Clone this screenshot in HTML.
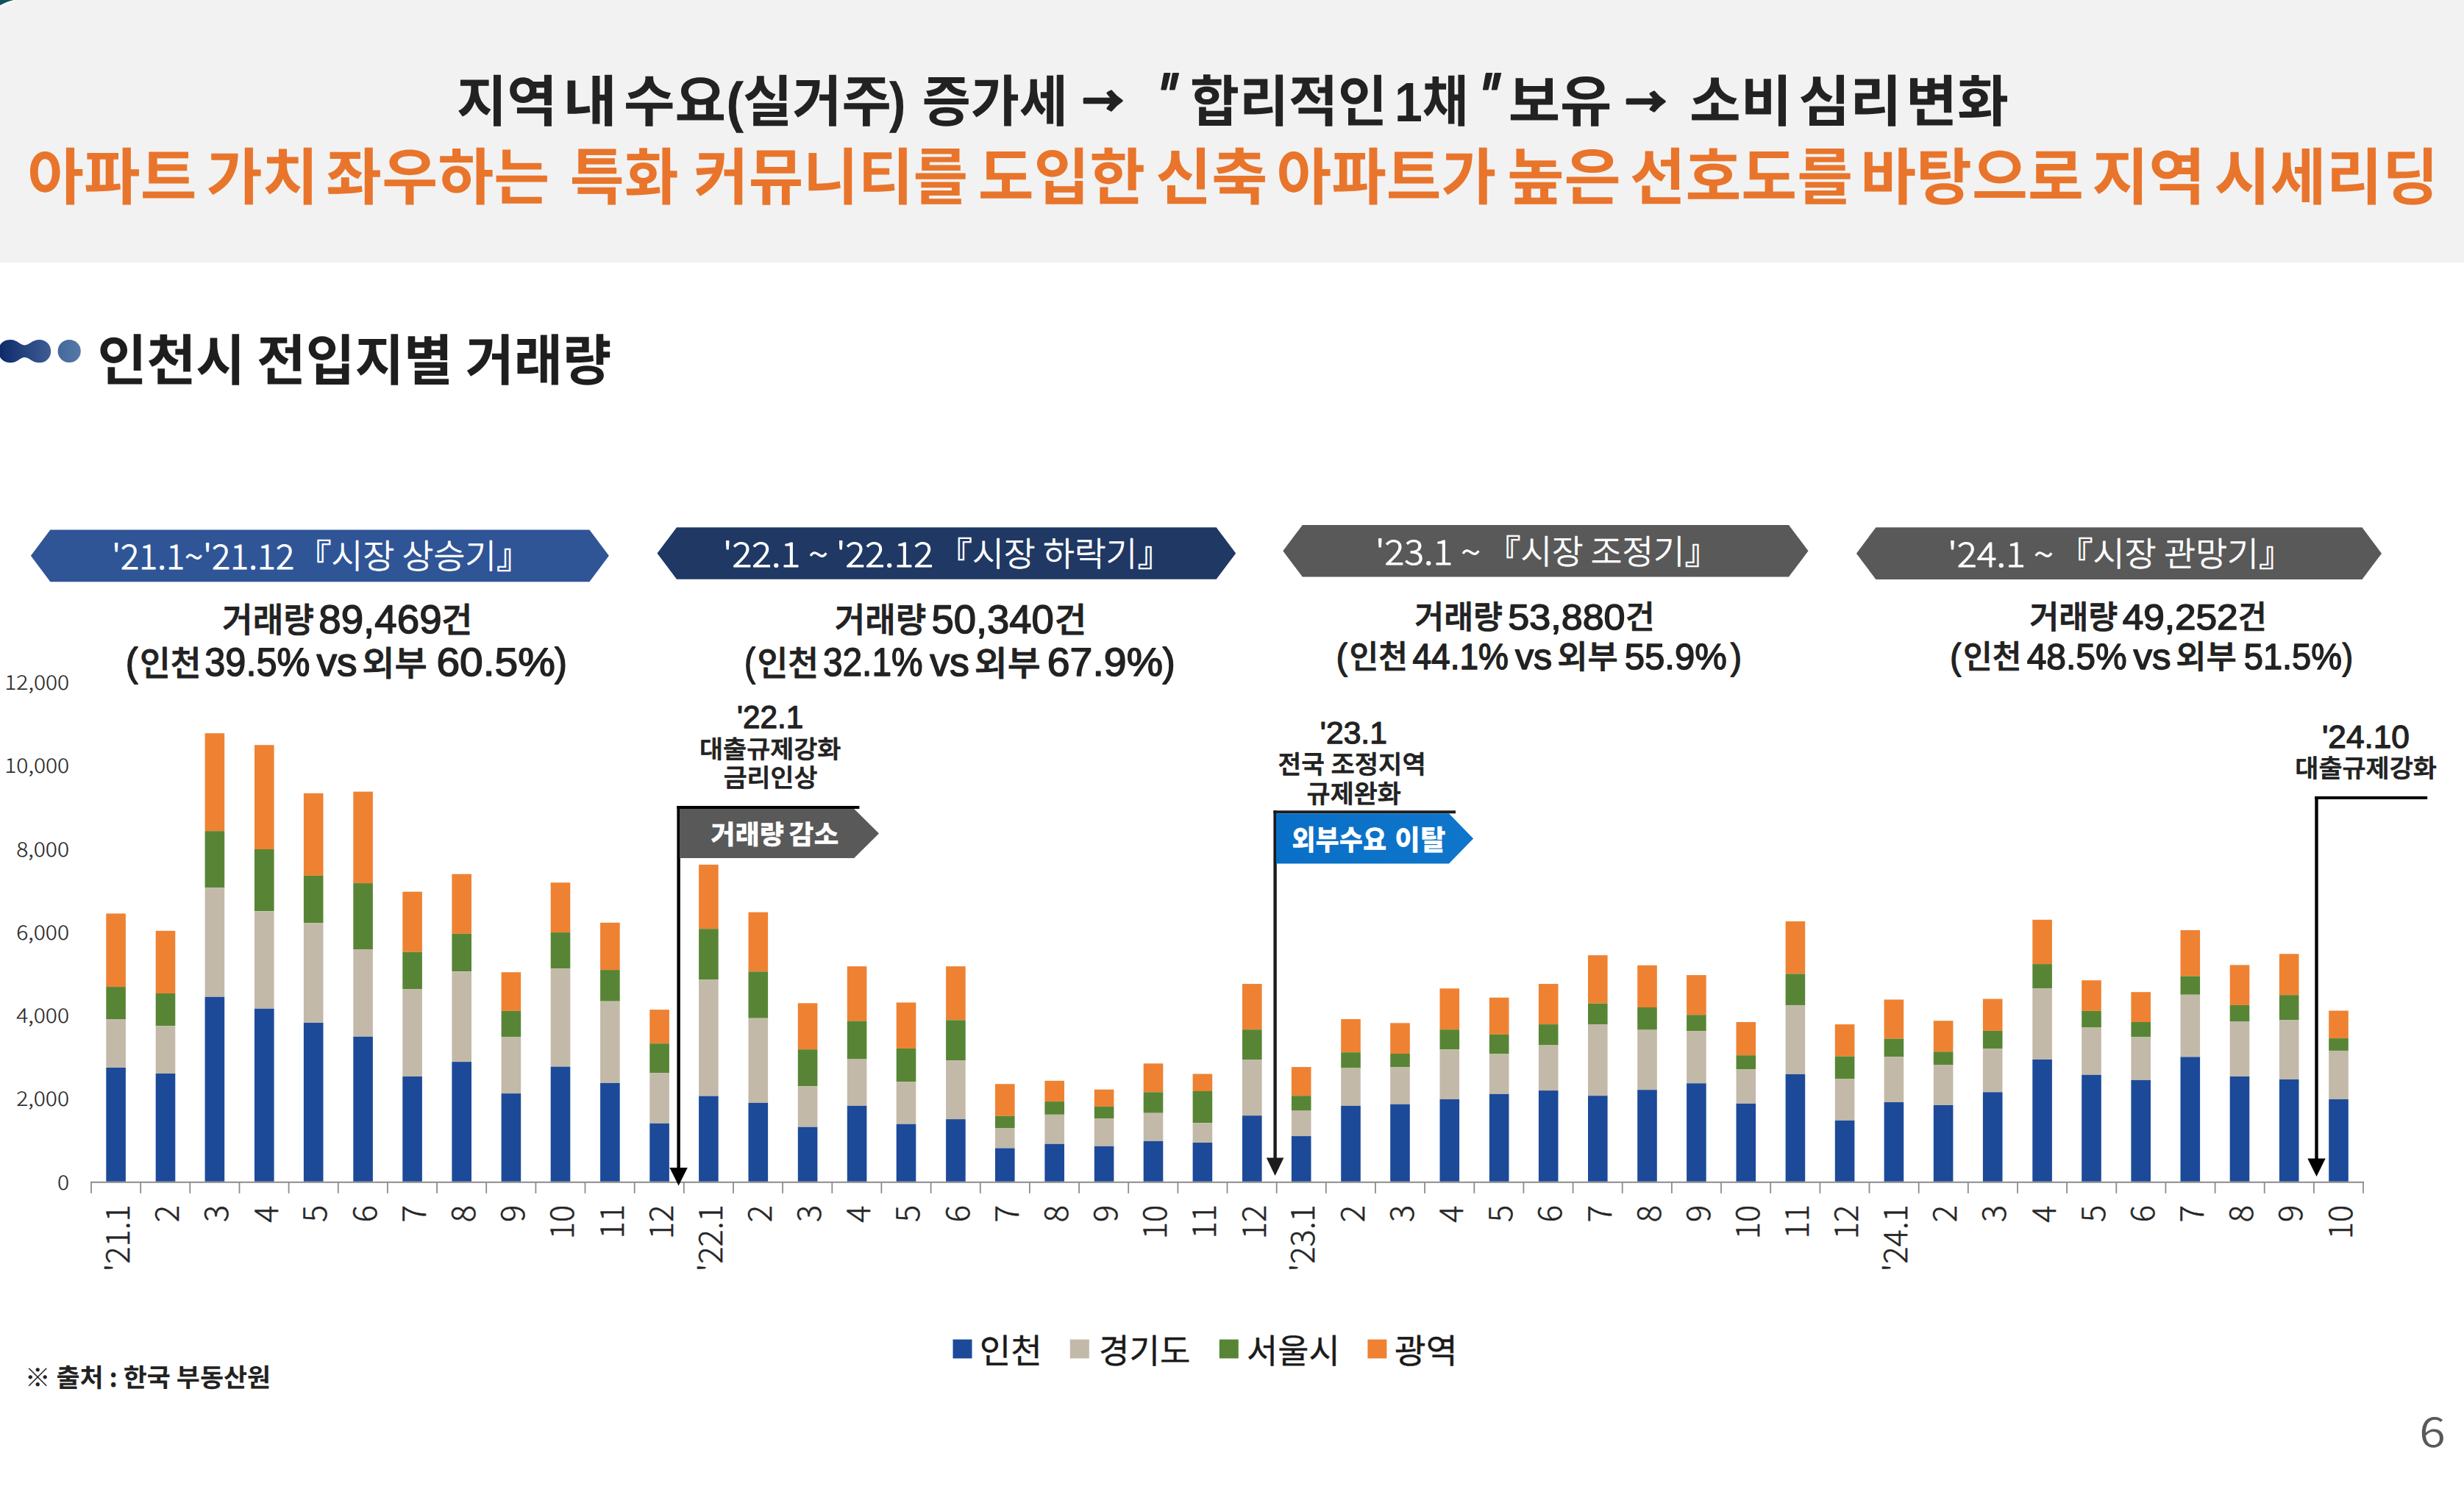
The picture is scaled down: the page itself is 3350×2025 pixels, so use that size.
<!DOCTYPE html>
<html><head><meta charset="utf-8"><title>인천시 전입지별 거래량</title>
<style>html,body{margin:0;padding:0;background:#fff;}body{width:3350px;height:2025px;overflow:hidden}text{white-space:pre;text-rendering:geometricPrecision}</style></head>
<body><svg width="3350" height="2025" viewBox="0 0 3350 2025" style="display:block"><rect x="0" y="0" width="3350" height="357" fill="#f2f2f2"/>
<filter id="bl" x="-50%" y="-50%" width="200%" height="200%"><feGaussianBlur stdDeviation="1.6"/></filter>
<path d="M0,0 H25 Q9,5 0,11 Z" fill="#f9ffff" opacity="0.95" filter="url(#bl)"/>
<path d="M0,0 H18.5 Q7,3 0,7.2 Z" fill="#13515e"/>
<defs>
<linearGradient id="gb" x1="0" x2="1" y1="0" y2="0"><stop offset="0" stop-color="#0b2a69"/><stop offset="1" stop-color="#3f5d95"/></linearGradient>
<linearGradient id="gc" x1="0" x2="1" y1="0" y2="0"><stop offset="0" stop-color="#44689b"/><stop offset="1" stop-color="#5579a7"/></linearGradient>
<linearGradient id="gt" x1="0" x2="1" y1="0" y2="0"><stop offset="0" stop-color="#0a6fc6"/><stop offset="1" stop-color="#0f76cb"/></linearGradient>
</defs>
<path d="M-2,477.7 C-2,468 5,462.1 14,462.1 C24,462.1 27,469.5 33.5,469.5 C40,469.5 43.5,462.1 53.6,462.1 C62.5,462.1 69.2,469 69.2,477.7 C69.2,486.5 62.5,493.3 53.6,493.3 C43.5,493.3 40,486 33.5,486 C27,486 24,493.3 14,493.3 C5,493.3 -2,487 -2,477.7 Z" fill="url(#gb)"/>
<circle cx="94.2" cy="477.5" r="15.6" fill="url(#gc)"/>
<polygon points="41.9,755.8 68.4,720.4 801.4,720.4 827.9,755.8 801.4,791.2 68.4,791.2" fill="#2f5597"/>
<polygon points="893.5,752.45 920.0,717.2 1653.7,717.2 1680.2,752.45 1653.7,787.7 920.0,787.7" fill="#203864"/>
<polygon points="1744.3,749.35 1770.8,714.1 2432.0,714.1 2458.5,749.35 2432.0,784.6 1770.8,784.6" fill="#595959"/>
<polygon points="2523.9,752.6500000000001 2550.4,717.2 3211.5,717.2 3238,752.6500000000001 3211.5,788.1 2550.4,788.1" fill="#595959"/>
<rect x="144.3" y="1242.4" width="26.6" height="99.7" fill="#ee8232"/>
<rect x="144.3" y="1342.1" width="26.6" height="44.3" fill="#588535"/>
<rect x="144.3" y="1386.4" width="26.6" height="65.6" fill="#c3b9a9"/>
<rect x="144.3" y="1452.0" width="26.6" height="154.8" fill="#1c4a99"/>
<rect x="211.7" y="1265.9" width="26.6" height="85.1" fill="#ee8232"/>
<rect x="211.7" y="1351.0" width="26.6" height="44.3" fill="#588535"/>
<rect x="211.7" y="1395.3" width="26.6" height="64.7" fill="#c3b9a9"/>
<rect x="211.7" y="1460.0" width="26.6" height="146.8" fill="#1c4a99"/>
<rect x="278.6" y="997.2" width="26.6" height="133.0" fill="#ee8232"/>
<rect x="278.6" y="1130.2" width="26.6" height="77.1" fill="#588535"/>
<rect x="278.6" y="1207.3" width="26.6" height="148.5" fill="#c3b9a9"/>
<rect x="278.6" y="1355.8" width="26.6" height="251.0" fill="#1c4a99"/>
<rect x="346.0" y="1013.2" width="26.6" height="141.8" fill="#ee8232"/>
<rect x="346.0" y="1155.0" width="26.6" height="84.2" fill="#588535"/>
<rect x="346.0" y="1239.3" width="26.6" height="132.5" fill="#c3b9a9"/>
<rect x="346.0" y="1371.8" width="26.6" height="235.0" fill="#1c4a99"/>
<rect x="412.9" y="1078.8" width="26.6" height="112.1" fill="#ee8232"/>
<rect x="412.9" y="1190.9" width="26.6" height="64.3" fill="#588535"/>
<rect x="412.9" y="1255.2" width="26.6" height="135.6" fill="#c3b9a9"/>
<rect x="412.9" y="1390.9" width="26.6" height="215.9" fill="#1c4a99"/>
<rect x="480.3" y="1076.6" width="26.6" height="124.6" fill="#ee8232"/>
<rect x="480.3" y="1201.1" width="26.6" height="90.0" fill="#588535"/>
<rect x="480.3" y="1291.1" width="26.6" height="118.8" fill="#c3b9a9"/>
<rect x="480.3" y="1409.9" width="26.6" height="196.9" fill="#1c4a99"/>
<rect x="547.3" y="1212.7" width="26.6" height="82.0" fill="#ee8232"/>
<rect x="547.3" y="1294.7" width="26.6" height="50.5" fill="#588535"/>
<rect x="547.3" y="1345.2" width="26.6" height="118.8" fill="#c3b9a9"/>
<rect x="547.3" y="1464.0" width="26.6" height="142.8" fill="#1c4a99"/>
<rect x="614.4" y="1188.7" width="26.6" height="81.1" fill="#ee8232"/>
<rect x="614.4" y="1269.8" width="26.6" height="51.4" fill="#588535"/>
<rect x="614.4" y="1321.3" width="26.6" height="122.8" fill="#c3b9a9"/>
<rect x="614.4" y="1444.1" width="26.6" height="162.7" fill="#1c4a99"/>
<rect x="681.6" y="1322.2" width="26.6" height="52.7" fill="#ee8232"/>
<rect x="681.6" y="1374.9" width="26.6" height="35.5" fill="#588535"/>
<rect x="681.6" y="1410.4" width="26.6" height="76.7" fill="#c3b9a9"/>
<rect x="681.6" y="1487.1" width="26.6" height="119.7" fill="#1c4a99"/>
<rect x="748.7" y="1200.3" width="26.6" height="67.8" fill="#ee8232"/>
<rect x="748.7" y="1268.1" width="26.6" height="49.2" fill="#588535"/>
<rect x="748.7" y="1317.3" width="26.6" height="133.4" fill="#c3b9a9"/>
<rect x="748.7" y="1450.7" width="26.6" height="156.1" fill="#1c4a99"/>
<rect x="816.1" y="1254.8" width="26.6" height="64.3" fill="#ee8232"/>
<rect x="816.1" y="1319.1" width="26.6" height="42.6" fill="#588535"/>
<rect x="816.1" y="1361.6" width="26.6" height="111.3" fill="#c3b9a9"/>
<rect x="816.1" y="1472.9" width="26.6" height="133.9" fill="#1c4a99"/>
<rect x="883.3" y="1373.1" width="26.6" height="46.1" fill="#ee8232"/>
<rect x="883.3" y="1419.2" width="26.6" height="39.9" fill="#588535"/>
<rect x="883.3" y="1459.1" width="26.6" height="68.7" fill="#c3b9a9"/>
<rect x="883.3" y="1527.8" width="26.6" height="79.0" fill="#1c4a99"/>
<rect x="950.1" y="1175.9" width="26.6" height="87.3" fill="#ee8232"/>
<rect x="950.1" y="1263.2" width="26.6" height="69.2" fill="#588535"/>
<rect x="950.1" y="1332.3" width="26.6" height="158.2" fill="#c3b9a9"/>
<rect x="950.1" y="1490.6" width="26.6" height="116.2" fill="#1c4a99"/>
<rect x="1017.5" y="1240.6" width="26.6" height="80.7" fill="#ee8232"/>
<rect x="1017.5" y="1321.3" width="26.6" height="63.4" fill="#588535"/>
<rect x="1017.5" y="1384.7" width="26.6" height="115.3" fill="#c3b9a9"/>
<rect x="1017.5" y="1499.9" width="26.6" height="106.9" fill="#1c4a99"/>
<rect x="1084.8" y="1364.3" width="26.6" height="62.9" fill="#ee8232"/>
<rect x="1084.8" y="1427.2" width="26.6" height="50.1" fill="#588535"/>
<rect x="1084.8" y="1477.3" width="26.6" height="55.4" fill="#c3b9a9"/>
<rect x="1084.8" y="1532.7" width="26.6" height="74.1" fill="#1c4a99"/>
<rect x="1151.8" y="1314.2" width="26.6" height="74.5" fill="#ee8232"/>
<rect x="1151.8" y="1388.6" width="26.6" height="51.9" fill="#588535"/>
<rect x="1151.8" y="1440.5" width="26.6" height="63.4" fill="#c3b9a9"/>
<rect x="1151.8" y="1503.9" width="26.6" height="102.9" fill="#1c4a99"/>
<rect x="1218.7" y="1363.4" width="26.6" height="62.5" fill="#ee8232"/>
<rect x="1218.7" y="1425.9" width="26.6" height="45.2" fill="#588535"/>
<rect x="1218.7" y="1471.1" width="26.6" height="57.6" fill="#c3b9a9"/>
<rect x="1218.7" y="1528.7" width="26.6" height="78.1" fill="#1c4a99"/>
<rect x="1286.1" y="1314.2" width="26.6" height="73.1" fill="#ee8232"/>
<rect x="1286.1" y="1387.3" width="26.6" height="55.0" fill="#588535"/>
<rect x="1286.1" y="1442.3" width="26.6" height="79.8" fill="#c3b9a9"/>
<rect x="1286.1" y="1522.1" width="26.6" height="84.7" fill="#1c4a99"/>
<rect x="1353.0" y="1474.2" width="26.6" height="43.4" fill="#ee8232"/>
<rect x="1353.0" y="1517.6" width="26.6" height="16.4" fill="#588535"/>
<rect x="1353.0" y="1534.0" width="26.6" height="27.5" fill="#c3b9a9"/>
<rect x="1353.0" y="1561.5" width="26.6" height="45.3" fill="#1c4a99"/>
<rect x="1420.4" y="1469.8" width="26.6" height="28.4" fill="#ee8232"/>
<rect x="1420.4" y="1498.1" width="26.6" height="17.7" fill="#588535"/>
<rect x="1420.4" y="1515.9" width="26.6" height="39.9" fill="#c3b9a9"/>
<rect x="1420.4" y="1555.8" width="26.6" height="51.0" fill="#1c4a99"/>
<rect x="1487.8" y="1481.7" width="26.6" height="23.1" fill="#ee8232"/>
<rect x="1487.8" y="1504.8" width="26.6" height="16.4" fill="#588535"/>
<rect x="1487.8" y="1521.2" width="26.6" height="37.7" fill="#c3b9a9"/>
<rect x="1487.8" y="1558.9" width="26.6" height="47.9" fill="#1c4a99"/>
<rect x="1554.7" y="1446.3" width="26.6" height="39.0" fill="#ee8232"/>
<rect x="1554.7" y="1485.3" width="26.6" height="28.4" fill="#588535"/>
<rect x="1554.7" y="1513.6" width="26.6" height="38.1" fill="#c3b9a9"/>
<rect x="1554.7" y="1551.8" width="26.6" height="55.0" fill="#1c4a99"/>
<rect x="1621.6" y="1460.5" width="26.6" height="23.5" fill="#ee8232"/>
<rect x="1621.6" y="1483.9" width="26.6" height="43.4" fill="#588535"/>
<rect x="1621.6" y="1527.4" width="26.6" height="26.6" fill="#c3b9a9"/>
<rect x="1621.6" y="1554.0" width="26.6" height="52.8" fill="#1c4a99"/>
<rect x="1689.0" y="1338.1" width="26.6" height="62.1" fill="#ee8232"/>
<rect x="1689.0" y="1400.2" width="26.6" height="41.2" fill="#588535"/>
<rect x="1689.0" y="1441.4" width="26.6" height="75.8" fill="#c3b9a9"/>
<rect x="1689.0" y="1517.2" width="26.6" height="89.6" fill="#1c4a99"/>
<rect x="1755.9" y="1451.1" width="26.6" height="39.0" fill="#ee8232"/>
<rect x="1755.9" y="1490.2" width="26.6" height="20.4" fill="#588535"/>
<rect x="1755.9" y="1510.5" width="26.6" height="34.6" fill="#c3b9a9"/>
<rect x="1755.9" y="1545.1" width="26.6" height="61.7" fill="#1c4a99"/>
<rect x="1823.2" y="1386.0" width="26.6" height="45.2" fill="#ee8232"/>
<rect x="1823.2" y="1431.2" width="26.6" height="21.3" fill="#588535"/>
<rect x="1823.2" y="1452.5" width="26.6" height="51.4" fill="#c3b9a9"/>
<rect x="1823.2" y="1503.9" width="26.6" height="102.9" fill="#1c4a99"/>
<rect x="1890.2" y="1391.3" width="26.6" height="41.7" fill="#ee8232"/>
<rect x="1890.2" y="1433.0" width="26.6" height="18.2" fill="#588535"/>
<rect x="1890.2" y="1451.1" width="26.6" height="50.5" fill="#c3b9a9"/>
<rect x="1890.2" y="1501.7" width="26.6" height="105.1" fill="#1c4a99"/>
<rect x="1957.5" y="1344.3" width="26.6" height="55.9" fill="#ee8232"/>
<rect x="1957.5" y="1400.2" width="26.6" height="27.0" fill="#588535"/>
<rect x="1957.5" y="1427.2" width="26.6" height="67.8" fill="#c3b9a9"/>
<rect x="1957.5" y="1495.0" width="26.6" height="111.8" fill="#1c4a99"/>
<rect x="2024.9" y="1356.7" width="26.6" height="50.1" fill="#ee8232"/>
<rect x="2024.9" y="1406.8" width="26.6" height="26.6" fill="#588535"/>
<rect x="2024.9" y="1433.4" width="26.6" height="54.5" fill="#c3b9a9"/>
<rect x="2024.9" y="1487.9" width="26.6" height="118.9" fill="#1c4a99"/>
<rect x="2091.9" y="1338.1" width="26.6" height="55.0" fill="#ee8232"/>
<rect x="2091.9" y="1393.1" width="26.6" height="28.4" fill="#588535"/>
<rect x="2091.9" y="1421.4" width="26.6" height="61.6" fill="#c3b9a9"/>
<rect x="2091.9" y="1483.1" width="26.6" height="123.7" fill="#1c4a99"/>
<rect x="2159.0" y="1299.1" width="26.6" height="65.6" fill="#ee8232"/>
<rect x="2159.0" y="1364.7" width="26.6" height="28.4" fill="#588535"/>
<rect x="2159.0" y="1393.1" width="26.6" height="97.1" fill="#c3b9a9"/>
<rect x="2159.0" y="1490.2" width="26.6" height="116.6" fill="#1c4a99"/>
<rect x="2226.2" y="1312.8" width="26.6" height="57.2" fill="#ee8232"/>
<rect x="2226.2" y="1370.0" width="26.6" height="30.6" fill="#588535"/>
<rect x="2226.2" y="1400.6" width="26.6" height="81.6" fill="#c3b9a9"/>
<rect x="2226.2" y="1482.2" width="26.6" height="124.6" fill="#1c4a99"/>
<rect x="2293.1" y="1326.1" width="26.6" height="54.1" fill="#ee8232"/>
<rect x="2293.1" y="1380.2" width="26.6" height="22.2" fill="#588535"/>
<rect x="2293.1" y="1402.4" width="26.6" height="70.9" fill="#c3b9a9"/>
<rect x="2293.1" y="1473.3" width="26.6" height="133.5" fill="#1c4a99"/>
<rect x="2360.5" y="1390.0" width="26.6" height="45.2" fill="#ee8232"/>
<rect x="2360.5" y="1435.2" width="26.6" height="19.1" fill="#588535"/>
<rect x="2360.5" y="1454.2" width="26.6" height="46.5" fill="#c3b9a9"/>
<rect x="2360.5" y="1500.8" width="26.6" height="106.0" fill="#1c4a99"/>
<rect x="2427.6" y="1253.0" width="26.6" height="71.4" fill="#ee8232"/>
<rect x="2427.6" y="1324.4" width="26.6" height="42.6" fill="#588535"/>
<rect x="2427.6" y="1366.9" width="26.6" height="94.0" fill="#c3b9a9"/>
<rect x="2427.6" y="1460.9" width="26.6" height="145.9" fill="#1c4a99"/>
<rect x="2494.8" y="1393.1" width="26.6" height="43.4" fill="#ee8232"/>
<rect x="2494.8" y="1436.5" width="26.6" height="30.6" fill="#588535"/>
<rect x="2494.8" y="1467.1" width="26.6" height="56.7" fill="#c3b9a9"/>
<rect x="2494.8" y="1523.8" width="26.6" height="83.0" fill="#1c4a99"/>
<rect x="2561.6" y="1359.4" width="26.6" height="53.2" fill="#ee8232"/>
<rect x="2561.6" y="1412.6" width="26.6" height="24.8" fill="#588535"/>
<rect x="2561.6" y="1437.4" width="26.6" height="61.6" fill="#c3b9a9"/>
<rect x="2561.6" y="1499.0" width="26.6" height="107.8" fill="#1c4a99"/>
<rect x="2628.8" y="1388.2" width="26.6" height="42.1" fill="#ee8232"/>
<rect x="2628.8" y="1430.3" width="26.6" height="18.2" fill="#588535"/>
<rect x="2628.8" y="1448.5" width="26.6" height="54.5" fill="#c3b9a9"/>
<rect x="2628.8" y="1503.0" width="26.6" height="103.8" fill="#1c4a99"/>
<rect x="2695.9" y="1358.5" width="26.6" height="43.4" fill="#ee8232"/>
<rect x="2695.9" y="1401.9" width="26.6" height="24.4" fill="#588535"/>
<rect x="2695.9" y="1426.3" width="26.6" height="59.0" fill="#c3b9a9"/>
<rect x="2695.9" y="1485.3" width="26.6" height="121.5" fill="#1c4a99"/>
<rect x="2763.3" y="1250.8" width="26.6" height="60.3" fill="#ee8232"/>
<rect x="2763.3" y="1311.1" width="26.6" height="33.2" fill="#588535"/>
<rect x="2763.3" y="1344.3" width="26.6" height="96.6" fill="#c3b9a9"/>
<rect x="2763.3" y="1440.9" width="26.6" height="165.9" fill="#1c4a99"/>
<rect x="2830.2" y="1333.2" width="26.6" height="41.7" fill="#ee8232"/>
<rect x="2830.2" y="1374.9" width="26.6" height="22.6" fill="#588535"/>
<rect x="2830.2" y="1397.5" width="26.6" height="64.3" fill="#c3b9a9"/>
<rect x="2830.2" y="1461.8" width="26.6" height="145.0" fill="#1c4a99"/>
<rect x="2897.4" y="1349.2" width="26.6" height="40.8" fill="#ee8232"/>
<rect x="2897.4" y="1390.0" width="26.6" height="20.4" fill="#588535"/>
<rect x="2897.4" y="1410.4" width="26.6" height="58.5" fill="#c3b9a9"/>
<rect x="2897.4" y="1468.9" width="26.6" height="137.9" fill="#1c4a99"/>
<rect x="2964.5" y="1265.0" width="26.6" height="62.5" fill="#ee8232"/>
<rect x="2964.5" y="1327.5" width="26.6" height="25.3" fill="#588535"/>
<rect x="2964.5" y="1352.7" width="26.6" height="84.7" fill="#c3b9a9"/>
<rect x="2964.5" y="1437.4" width="26.6" height="169.4" fill="#1c4a99"/>
<rect x="3031.7" y="1312.4" width="26.6" height="54.5" fill="#ee8232"/>
<rect x="3031.7" y="1366.9" width="26.6" height="22.6" fill="#588535"/>
<rect x="3031.7" y="1389.5" width="26.6" height="74.5" fill="#c3b9a9"/>
<rect x="3031.7" y="1464.0" width="26.6" height="142.8" fill="#1c4a99"/>
<rect x="3098.9" y="1297.3" width="26.6" height="55.9" fill="#ee8232"/>
<rect x="3098.9" y="1353.2" width="26.6" height="34.1" fill="#588535"/>
<rect x="3098.9" y="1387.3" width="26.6" height="80.7" fill="#c3b9a9"/>
<rect x="3098.9" y="1468.0" width="26.6" height="138.8" fill="#1c4a99"/>
<rect x="3166.2" y="1374.5" width="26.6" height="37.7" fill="#ee8232"/>
<rect x="3166.2" y="1412.1" width="26.6" height="16.8" fill="#588535"/>
<rect x="3166.2" y="1429.0" width="26.6" height="66.0" fill="#c3b9a9"/>
<rect x="3166.2" y="1495.0" width="26.6" height="111.8" fill="#1c4a99"/>
<rect x="123.0" y="1606.8" width="3091.0" height="2" fill="#8c8c8c"/>
<rect x="123.1" y="1607.5" width="1.8" height="15.4" fill="#8c8c8c"/>
<rect x="190.3" y="1607.5" width="1.8" height="15.4" fill="#8c8c8c"/>
<rect x="257.4" y="1607.5" width="1.8" height="15.4" fill="#8c8c8c"/>
<rect x="324.6" y="1607.5" width="1.8" height="15.4" fill="#8c8c8c"/>
<rect x="391.7" y="1607.5" width="1.8" height="15.4" fill="#8c8c8c"/>
<rect x="458.9" y="1607.5" width="1.8" height="15.4" fill="#8c8c8c"/>
<rect x="526.0" y="1607.5" width="1.8" height="15.4" fill="#8c8c8c"/>
<rect x="593.2" y="1607.5" width="1.8" height="15.4" fill="#8c8c8c"/>
<rect x="660.3" y="1607.5" width="1.8" height="15.4" fill="#8c8c8c"/>
<rect x="727.5" y="1607.5" width="1.8" height="15.4" fill="#8c8c8c"/>
<rect x="794.6" y="1607.5" width="1.8" height="15.4" fill="#8c8c8c"/>
<rect x="861.8" y="1607.5" width="1.8" height="15.4" fill="#8c8c8c"/>
<rect x="928.9" y="1607.5" width="1.8" height="15.4" fill="#8c8c8c"/>
<rect x="996.1" y="1607.5" width="1.8" height="15.4" fill="#8c8c8c"/>
<rect x="1063.2" y="1607.5" width="1.8" height="15.4" fill="#8c8c8c"/>
<rect x="1130.4" y="1607.5" width="1.8" height="15.4" fill="#8c8c8c"/>
<rect x="1197.5" y="1607.5" width="1.8" height="15.4" fill="#8c8c8c"/>
<rect x="1264.7" y="1607.5" width="1.8" height="15.4" fill="#8c8c8c"/>
<rect x="1331.9" y="1607.5" width="1.8" height="15.4" fill="#8c8c8c"/>
<rect x="1399.0" y="1607.5" width="1.8" height="15.4" fill="#8c8c8c"/>
<rect x="1466.2" y="1607.5" width="1.8" height="15.4" fill="#8c8c8c"/>
<rect x="1533.3" y="1607.5" width="1.8" height="15.4" fill="#8c8c8c"/>
<rect x="1600.5" y="1607.5" width="1.8" height="15.4" fill="#8c8c8c"/>
<rect x="1667.6" y="1607.5" width="1.8" height="15.4" fill="#8c8c8c"/>
<rect x="1734.8" y="1607.5" width="1.8" height="15.4" fill="#8c8c8c"/>
<rect x="1801.9" y="1607.5" width="1.8" height="15.4" fill="#8c8c8c"/>
<rect x="1869.1" y="1607.5" width="1.8" height="15.4" fill="#8c8c8c"/>
<rect x="1936.2" y="1607.5" width="1.8" height="15.4" fill="#8c8c8c"/>
<rect x="2003.4" y="1607.5" width="1.8" height="15.4" fill="#8c8c8c"/>
<rect x="2070.5" y="1607.5" width="1.8" height="15.4" fill="#8c8c8c"/>
<rect x="2137.7" y="1607.5" width="1.8" height="15.4" fill="#8c8c8c"/>
<rect x="2204.8" y="1607.5" width="1.8" height="15.4" fill="#8c8c8c"/>
<rect x="2272.0" y="1607.5" width="1.8" height="15.4" fill="#8c8c8c"/>
<rect x="2339.1" y="1607.5" width="1.8" height="15.4" fill="#8c8c8c"/>
<rect x="2406.3" y="1607.5" width="1.8" height="15.4" fill="#8c8c8c"/>
<rect x="2473.5" y="1607.5" width="1.8" height="15.4" fill="#8c8c8c"/>
<rect x="2540.6" y="1607.5" width="1.8" height="15.4" fill="#8c8c8c"/>
<rect x="2607.8" y="1607.5" width="1.8" height="15.4" fill="#8c8c8c"/>
<rect x="2674.9" y="1607.5" width="1.8" height="15.4" fill="#8c8c8c"/>
<rect x="2742.1" y="1607.5" width="1.8" height="15.4" fill="#8c8c8c"/>
<rect x="2809.2" y="1607.5" width="1.8" height="15.4" fill="#8c8c8c"/>
<rect x="2876.4" y="1607.5" width="1.8" height="15.4" fill="#8c8c8c"/>
<rect x="2943.5" y="1607.5" width="1.8" height="15.4" fill="#8c8c8c"/>
<rect x="3010.7" y="1607.5" width="1.8" height="15.4" fill="#8c8c8c"/>
<rect x="3077.8" y="1607.5" width="1.8" height="15.4" fill="#8c8c8c"/>
<rect x="3145.0" y="1607.5" width="1.8" height="15.4" fill="#8c8c8c"/>
<rect x="3212.1" y="1607.5" width="1.8" height="15.4" fill="#8c8c8c"/>
<rect x="920.4" y="1096.0" width="248.0" height="4" fill="#000"/>
<rect x="920.4" y="1096.0" width="4.4" height="493.9" fill="#000"/>
<polygon points="910.4,1587.9 934.8,1587.9 922.6,1612.4" fill="#000"/>
<rect x="1731.4" y="1102.3" width="247.6" height="4" fill="#1c1c1c"/>
<rect x="1731.4" y="1102.3" width="4.4" height="474.2" fill="#1c1c1c"/>
<polygon points="1721.8,1574.5 1745.4,1574.5 1733.6,1599.0" fill="#1c1c1c"/>
<rect x="3147.3" y="1083.0" width="152.9" height="4" fill="#000"/>
<rect x="3147.3" y="1083.0" width="4.4" height="494.5" fill="#000"/>
<polygon points="3137.3,1575.5 3161.7,1575.5 3149.5,1600.0" fill="#000"/>
<polygon points="924,1100 1161.2,1100 1195,1133.5 1161.2,1167 924,1167" fill="#595959"/>
<polygon points="1735,1106.3 1969.9,1106.3 2003.1,1140.4 1969.9,1174.4 1735,1174.4" fill="url(#gt)"/>
<rect x="1295.5" y="1821.6" width="26" height="25.8" fill="#1c4a99"/>
<rect x="1454.8" y="1821.6" width="26" height="25.8" fill="#c3b9a9"/>
<rect x="1657.8" y="1821.6" width="26" height="25.8" fill="#588535"/>
<rect x="1859.4" y="1821.6" width="26" height="25.8" fill="#ee8232"/>
<text transform="translate(620.83,164.60)  scale(0.9836,1)" font-family="'Liberation Sans','Noto Sans CJK KR',sans-serif" font-weight="700" font-size="75.59" fill="#222222">지역</text>
<text transform="translate(765.60,164.60)  scale(1.0583,1)" font-family="'Liberation Sans','Noto Sans CJK KR',sans-serif" font-weight="700" font-size="75.59" fill="#222222">내</text>
<text transform="translate(847.98,164.60)  scale(0.9997,1)" font-family="'Liberation Sans','Noto Sans CJK KR',sans-serif" font-weight="700" font-size="75.59" fill="#222222">수요</text>
<text transform="translate(987.19,164.60)  scale(0.9544,1)" font-family="'Liberation Sans','Noto Sans CJK KR',sans-serif" font-weight="700" font-size="75.59" fill="#222222">(</text>
<text transform="translate(1010.07,164.60)  scale(0.9675,1)" font-family="'Liberation Sans','Noto Sans CJK KR',sans-serif" font-weight="700" font-size="75.59" fill="#222222">실거주</text>
<text transform="translate(1208.70,164.60)  scale(0.9024,1)" font-family="'Liberation Sans','Noto Sans CJK KR',sans-serif" font-weight="700" font-size="75.59" fill="#222222">)</text>
<text transform="translate(1253.63,164.60)  scale(0.9506,1)" font-family="'Liberation Sans','Noto Sans CJK KR',sans-serif" font-weight="700" font-size="75.59" fill="#222222">증가세</text>
<text transform="translate(1618.09,164.60)  scale(0.9632,1)" font-family="'Liberation Sans','Noto Sans CJK KR',sans-serif" font-weight="700" font-size="75.59" fill="#222222">합리적인</text>
<text transform="translate(1895.92,164.60)  scale(0.9004,1)" font-family="'Liberation Sans','Noto Sans CJK KR',sans-serif" font-weight="700" font-size="75.59" fill="#222222">1채</text>
<text transform="translate(2050.74,164.60)  scale(1.0117,1)" font-family="'Liberation Sans','Noto Sans CJK KR',sans-serif" font-weight="700" font-size="75.59" fill="#222222">보유</text>
<text transform="translate(2296.97,164.60)  scale(1.0020,1)" font-family="'Liberation Sans','Noto Sans CJK KR',sans-serif" font-weight="700" font-size="75.59" fill="#222222">소비</text>
<text transform="translate(2445.15,164.60)  scale(1.0082,1)" font-family="'Liberation Sans','Noto Sans CJK KR',sans-serif" font-weight="700" font-size="75.59" fill="#222222">심리</text>
<text transform="translate(2590.91,164.60)  scale(1.0066,1)" font-family="'Liberation Sans','Noto Sans CJK KR',sans-serif" font-weight="700" font-size="75.59" fill="#222222">변화</text>
<text transform="translate(1472.09,158.48)  scale(1.0000,1)" font-family="'Noto Sans CJK KR','Liberation Sans',sans-serif" font-weight="700" font-size="55.22" fill="#222222" stroke="#222222" stroke-width="3" stroke-linejoin="round">→</text>
<text transform="translate(2209.89,158.52)  scale(1.0000,1)" font-family="'Noto Sans CJK KR','Liberation Sans',sans-serif" font-weight="700" font-size="55.33" fill="#222222" stroke="#222222" stroke-width="3" stroke-linejoin="round">→</text>
<text transform="translate(1567.00,158.46) skewX(-12) scale(0.6653,1)" font-family="'Liberation Sans','Noto Sans CJK KR',sans-serif" font-weight="700" font-size="84.00" fill="#222222" stroke="#222222" stroke-width="2.6" stroke-linejoin="round">"</text>
<text transform="translate(2004.40,158.46) skewX(-12) scale(0.6828,1)" font-family="'Liberation Sans','Noto Sans CJK KR',sans-serif" font-weight="700" font-size="84.00" fill="#222222" stroke="#222222" stroke-width="2.6" stroke-linejoin="round">"</text>
<text transform="translate(37.37,271.35)  scale(0.9939,1)" font-family="'Liberation Sans','Noto Sans CJK KR',sans-serif" font-weight="700" font-size="83.87" fill="#e8752b">아파트</text>
<text transform="translate(280.52,271.35)  scale(0.9875,1)" font-family="'Liberation Sans','Noto Sans CJK KR',sans-serif" font-weight="700" font-size="83.87" fill="#e8752b">가치</text>
<text transform="translate(443.12,271.35)  scale(0.9856,1)" font-family="'Liberation Sans','Noto Sans CJK KR',sans-serif" font-weight="700" font-size="83.87" fill="#e8752b">좌우하는</text>
<text transform="translate(774.79,271.35)  scale(0.9579,1)" font-family="'Liberation Sans','Noto Sans CJK KR',sans-serif" font-weight="700" font-size="83.87" fill="#e8752b">특화</text>
<text transform="translate(943.26,271.35)  scale(0.9662,1)" font-family="'Liberation Sans','Noto Sans CJK KR',sans-serif" font-weight="700" font-size="83.87" fill="#e8752b">커뮤니티를</text>
<text transform="translate(1329.70,271.35)  scale(0.9822,1)" font-family="'Liberation Sans','Noto Sans CJK KR',sans-serif" font-weight="700" font-size="83.87" fill="#e8752b">도입한</text>
<text transform="translate(1571.09,271.35)  scale(0.9864,1)" font-family="'Liberation Sans','Noto Sans CJK KR',sans-serif" font-weight="700" font-size="83.87" fill="#e8752b">신축</text>
<text transform="translate(1735.45,271.35)  scale(0.9680,1)" font-family="'Liberation Sans','Noto Sans CJK KR',sans-serif" font-weight="700" font-size="83.87" fill="#e8752b">아파트가</text>
<text transform="translate(2049.34,271.35)  scale(1.0006,1)" font-family="'Liberation Sans','Noto Sans CJK KR',sans-serif" font-weight="700" font-size="83.87" fill="#e8752b">높은</text>
<text transform="translate(2215.70,271.35)  scale(0.9827,1)" font-family="'Liberation Sans','Noto Sans CJK KR',sans-serif" font-weight="700" font-size="83.87" fill="#e8752b">선호도를</text>
<text transform="translate(2529.23,271.35)  scale(0.9836,1)" font-family="'Liberation Sans','Noto Sans CJK KR',sans-serif" font-weight="700" font-size="83.87" fill="#e8752b">바탕으로</text>
<text transform="translate(2844.15,271.35)  scale(0.9994,1)" font-family="'Liberation Sans','Noto Sans CJK KR',sans-serif" font-weight="700" font-size="83.87" fill="#e8752b">지역</text>
<text transform="translate(3010.42,271.35)  scale(0.9875,1)" font-family="'Liberation Sans','Noto Sans CJK KR',sans-serif" font-weight="700" font-size="83.87" fill="#e8752b">시세리딩</text>
<text transform="translate(132.56,517.35)  scale(0.9704,1)" font-family="'Noto Sans CJK KR','Liberation Sans',sans-serif" font-weight="700" font-size="74.95" fill="#1e1e1e">인천시</text>
<text transform="translate(349.10,517.35)  scale(0.9670,1)" font-family="'Noto Sans CJK KR','Liberation Sans',sans-serif" font-weight="700" font-size="74.95" fill="#1e1e1e">전입지별</text>
<text transform="translate(632.64,517.35)  scale(0.9597,1)" font-family="'Noto Sans CJK KR','Liberation Sans',sans-serif" font-weight="700" font-size="74.95" fill="#1e1e1e">거래량</text>
<text transform="translate(403.95,773.48)  scale(1.0112,1)" font-family="'Noto Sans CJK KR','Liberation Sans',sans-serif" font-weight="300" font-size="46.07" fill="#ffffff" stroke="#ffffff" stroke-width="1.0" stroke-linejoin="round">『시장 상승기』</text>
<text transform="translate(152.27,773.90)  scale(1.0090,1)" font-family="'Noto Sans CJK KR','Liberation Sans',sans-serif" font-weight="300" font-size="46.53" fill="#ffffff" stroke="#ffffff" stroke-width="1.0" stroke-linejoin="round">'21.1~'21.12</text>
<text transform="translate(1275.36,770.18)  scale(1.0108,1)" font-family="'Noto Sans CJK KR','Liberation Sans',sans-serif" font-weight="300" font-size="46.07" fill="#ffffff" stroke="#ffffff" stroke-width="1.0" stroke-linejoin="round">『시장 하락기』</text>
<text transform="translate(982.90,770.60)  scale(1.0754,1)" font-family="'Noto Sans CJK KR','Liberation Sans',sans-serif" font-weight="300" font-size="46.53" fill="#ffffff" stroke="#ffffff" stroke-width="1.0" stroke-linejoin="round">'22.1 ~ '22.12</text>
<text transform="translate(2021.24,767.08)  scale(1.0043,1)" font-family="'Noto Sans CJK KR','Liberation Sans',sans-serif" font-weight="300" font-size="46.07" fill="#ffffff" stroke="#ffffff" stroke-width="1.0" stroke-linejoin="round">『시장 조정기』</text>
<text transform="translate(1870.00,767.50)  scale(1.0754,1)" font-family="'Noto Sans CJK KR','Liberation Sans',sans-serif" font-weight="300" font-size="46.53" fill="#ffffff" stroke="#ffffff" stroke-width="1.0" stroke-linejoin="round">'23.1 ~</text>
<text transform="translate(2798.73,770.38)  scale(1.0155,1)" font-family="'Noto Sans CJK KR','Liberation Sans',sans-serif" font-weight="300" font-size="46.07" fill="#ffffff" stroke="#ffffff" stroke-width="1.0" stroke-linejoin="round">『시장 관망기』</text>
<text transform="translate(2648.17,770.80)  scale(1.0809,1)" font-family="'Noto Sans CJK KR','Liberation Sans',sans-serif" font-weight="300" font-size="46.53" fill="#ffffff" stroke="#ffffff" stroke-width="1.0" stroke-linejoin="round">'24.1 ~</text>
<text transform="translate(302.09,859.55)  scale(0.9634,1)" font-family="'Noto Sans CJK KR','Liberation Sans',sans-serif" font-weight="500" font-size="46.92" fill="#222222" stroke="#222222" stroke-width="0.9" stroke-linejoin="round">거래량</text>
<text transform="translate(600.16,859.55)  scale(0.9742,1)" font-family="'Noto Sans CJK KR','Liberation Sans',sans-serif" font-weight="500" font-size="46.92" fill="#222222" stroke="#222222" stroke-width="0.9" stroke-linejoin="round">건</text>
<text transform="translate(433.31,861.26)  scale(1.0058,1)" font-family="'Liberation Sans','Noto Sans CJK KR',sans-serif" font-weight="400" font-size="54.37" fill="#222222" stroke="#222222" stroke-width="1.5" stroke-linejoin="round">89,469</text>
<text transform="translate(189.97,919.03)  scale(0.9685,1)" font-family="'Noto Sans CJK KR','Liberation Sans',sans-serif" font-weight="500" font-size="46.92" fill="#222222" stroke="#222222" stroke-width="0.9" stroke-linejoin="round">인천</text>
<text transform="translate(492.29,919.03)  scale(1.0266,1)" font-family="'Noto Sans CJK KR','Liberation Sans',sans-serif" font-weight="500" font-size="46.92" fill="#222222" stroke="#222222" stroke-width="0.9" stroke-linejoin="round">외부</text>
<text transform="translate(170.75,919.46)  scale(0.9363,1)" font-family="'Liberation Sans','Noto Sans CJK KR',sans-serif" font-weight="400" font-size="54.23" fill="#222222" stroke="#222222" stroke-width="1.5" stroke-linejoin="round">(</text>
<text transform="translate(278.28,919.46)  scale(0.9314,1)" font-family="'Liberation Sans','Noto Sans CJK KR',sans-serif" font-weight="400" font-size="54.23" fill="#222222" stroke="#222222" stroke-width="1.5" stroke-linejoin="round">39.5%</text>
<text transform="translate(430.50,919.46)  scale(1.0162,1)" font-family="'Liberation Sans','Noto Sans CJK KR',sans-serif" font-weight="400" font-size="54.23" fill="#222222" stroke="#222222" stroke-width="1.5" stroke-linejoin="round">vs</text>
<text transform="translate(593.45,919.46)  scale(1.0495,1)" font-family="'Liberation Sans','Noto Sans CJK KR',sans-serif" font-weight="400" font-size="54.23" fill="#222222" stroke="#222222" stroke-width="1.5" stroke-linejoin="round">60.5%</text>
<text transform="translate(753.99,919.46)  scale(0.9434,1)" font-family="'Liberation Sans','Noto Sans CJK KR',sans-serif" font-weight="400" font-size="54.23" fill="#222222" stroke="#222222" stroke-width="1.5" stroke-linejoin="round">)</text>
<text transform="translate(1134.80,859.55)  scale(0.9610,1)" font-family="'Noto Sans CJK KR','Liberation Sans',sans-serif" font-weight="500" font-size="46.92" fill="#222222" stroke="#222222" stroke-width="0.9" stroke-linejoin="round">거래량</text>
<text transform="translate(1433.76,859.55)  scale(1.0102,1)" font-family="'Noto Sans CJK KR','Liberation Sans',sans-serif" font-weight="500" font-size="46.92" fill="#222222" stroke="#222222" stroke-width="0.9" stroke-linejoin="round">건</text>
<text transform="translate(1266.52,861.26)  scale(1.0005,1)" font-family="'Liberation Sans','Noto Sans CJK KR',sans-serif" font-weight="400" font-size="54.37" fill="#222222" stroke="#222222" stroke-width="1.5" stroke-linejoin="round">50,340</text>
<text transform="translate(1029.47,919.03)  scale(0.9685,1)" font-family="'Noto Sans CJK KR','Liberation Sans',sans-serif" font-weight="500" font-size="46.92" fill="#222222" stroke="#222222" stroke-width="0.9" stroke-linejoin="round">인천</text>
<text transform="translate(1324.65,919.03)  scale(1.0424,1)" font-family="'Noto Sans CJK KR','Liberation Sans',sans-serif" font-weight="500" font-size="46.92" fill="#222222" stroke="#222222" stroke-width="0.9" stroke-linejoin="round">외부</text>
<text transform="translate(1011.88,919.46)  scale(0.8370,1)" font-family="'Liberation Sans','Noto Sans CJK KR',sans-serif" font-weight="400" font-size="54.23" fill="#222222" stroke="#222222" stroke-width="1.5" stroke-linejoin="round">(</text>
<text transform="translate(1118.89,919.46)  scale(0.8827,1)" font-family="'Liberation Sans','Noto Sans CJK KR',sans-serif" font-weight="400" font-size="54.23" fill="#222222" stroke="#222222" stroke-width="1.5" stroke-linejoin="round">32.1%</text>
<text transform="translate(1264.20,919.46)  scale(0.9912,1)" font-family="'Liberation Sans','Noto Sans CJK KR',sans-serif" font-weight="400" font-size="54.23" fill="#222222" stroke="#222222" stroke-width="1.5" stroke-linejoin="round">vs</text>
<text transform="translate(1423.73,919.46)  scale(1.0227,1)" font-family="'Liberation Sans','Noto Sans CJK KR',sans-serif" font-weight="400" font-size="54.23" fill="#222222" stroke="#222222" stroke-width="1.5" stroke-linejoin="round">67.9%</text>
<text transform="translate(1580.48,919.46)  scale(0.9575,1)" font-family="'Liberation Sans','Noto Sans CJK KR',sans-serif" font-weight="400" font-size="54.23" fill="#222222" stroke="#222222" stroke-width="1.5" stroke-linejoin="round">)</text>
<text transform="translate(1923.37,854.77)  scale(0.9804,1)" font-family="'Noto Sans CJK KR','Liberation Sans',sans-serif" font-weight="500" font-size="44.18" fill="#222222" stroke="#222222" stroke-width="0.9" stroke-linejoin="round">거래량</text>
<text transform="translate(2210.11,854.77)  scale(0.9760,1)" font-family="'Noto Sans CJK KR','Liberation Sans',sans-serif" font-weight="500" font-size="44.18" fill="#222222" stroke="#222222" stroke-width="0.9" stroke-linejoin="round">건</text>
<text transform="translate(2050.32,856.31)  scale(1.0656,1)" font-family="'Liberation Sans','Noto Sans CJK KR',sans-serif" font-weight="400" font-size="48.87" fill="#222222" stroke="#222222" stroke-width="1.5" stroke-linejoin="round">53,880</text>
<text transform="translate(1834.61,909.49)  scale(0.9778,1)" font-family="'Noto Sans CJK KR','Liberation Sans',sans-serif" font-weight="500" font-size="44.18" fill="#222222" stroke="#222222" stroke-width="0.9" stroke-linejoin="round">인천</text>
<text transform="translate(2117.36,909.49)  scale(1.0154,1)" font-family="'Noto Sans CJK KR','Liberation Sans',sans-serif" font-weight="500" font-size="44.18" fill="#222222" stroke="#222222" stroke-width="0.9" stroke-linejoin="round">외부</text>
<text transform="translate(1816.85,910.20)  scale(0.9232,1)" font-family="'Liberation Sans','Noto Sans CJK KR',sans-serif" font-weight="400" font-size="49.58" fill="#222222" stroke="#222222" stroke-width="1.5" stroke-linejoin="round">(</text>
<text transform="translate(1920.58,910.20)  scale(0.9258,1)" font-family="'Liberation Sans','Noto Sans CJK KR',sans-serif" font-weight="400" font-size="49.58" fill="#222222" stroke="#222222" stroke-width="1.5" stroke-linejoin="round">44.1%</text>
<text transform="translate(2059.90,910.20)  scale(1.0169,1)" font-family="'Liberation Sans','Noto Sans CJK KR',sans-serif" font-weight="400" font-size="49.58" fill="#222222" stroke="#222222" stroke-width="1.5" stroke-linejoin="round">vs</text>
<text transform="translate(2208.74,910.20)  scale(0.9888,1)" font-family="'Liberation Sans','Noto Sans CJK KR',sans-serif" font-weight="400" font-size="49.58" fill="#222222" stroke="#222222" stroke-width="1.5" stroke-linejoin="round">55.9%</text>
<text transform="translate(2352.65,910.20)  scale(0.9154,1)" font-family="'Liberation Sans','Noto Sans CJK KR',sans-serif" font-weight="400" font-size="49.58" fill="#222222" stroke="#222222" stroke-width="1.5" stroke-linejoin="round">)</text>
<text transform="translate(2759.16,854.77)  scale(0.9846,1)" font-family="'Noto Sans CJK KR','Liberation Sans',sans-serif" font-weight="500" font-size="44.18" fill="#222222" stroke="#222222" stroke-width="0.9" stroke-linejoin="round">거래량</text>
<text transform="translate(3042.65,854.77)  scale(0.9613,1)" font-family="'Noto Sans CJK KR','Liberation Sans',sans-serif" font-weight="500" font-size="44.18" fill="#222222" stroke="#222222" stroke-width="0.9" stroke-linejoin="round">건</text>
<text transform="translate(2885.67,856.31)  scale(1.0504,1)" font-family="'Liberation Sans','Noto Sans CJK KR',sans-serif" font-weight="400" font-size="48.87" fill="#222222" stroke="#222222" stroke-width="1.5" stroke-linejoin="round">49,252</text>
<text transform="translate(2668.91,909.09)  scale(0.9778,1)" font-family="'Noto Sans CJK KR','Liberation Sans',sans-serif" font-weight="500" font-size="44.18" fill="#222222" stroke="#222222" stroke-width="0.9" stroke-linejoin="round">인천</text>
<text transform="translate(2958.16,909.09)  scale(1.0154,1)" font-family="'Noto Sans CJK KR','Liberation Sans',sans-serif" font-weight="500" font-size="44.18" fill="#222222" stroke="#222222" stroke-width="0.9" stroke-linejoin="round">외부</text>
<text transform="translate(2651.18,910.20)  scale(0.9154,1)" font-family="'Liberation Sans','Noto Sans CJK KR',sans-serif" font-weight="400" font-size="49.58" fill="#222222" stroke="#222222" stroke-width="1.5" stroke-linejoin="round">(</text>
<text transform="translate(2755.64,910.20)  scale(0.9672,1)" font-family="'Liberation Sans','Noto Sans CJK KR',sans-serif" font-weight="400" font-size="49.58" fill="#222222" stroke="#222222" stroke-width="1.5" stroke-linejoin="round">48.5%</text>
<text transform="translate(2900.50,910.20)  scale(1.0316,1)" font-family="'Liberation Sans','Noto Sans CJK KR',sans-serif" font-weight="400" font-size="49.58" fill="#222222" stroke="#222222" stroke-width="1.5" stroke-linejoin="round">vs</text>
<text transform="translate(3050.82,910.20)  scale(0.9471,1)" font-family="'Liberation Sans','Noto Sans CJK KR',sans-serif" font-weight="400" font-size="49.58" fill="#222222" stroke="#222222" stroke-width="1.5" stroke-linejoin="round">51.5%</text>
<text transform="translate(3184.47,910.20)  scale(0.8766,1)" font-family="'Liberation Sans','Noto Sans CJK KR',sans-serif" font-weight="400" font-size="49.58" fill="#222222" stroke="#222222" stroke-width="1.5" stroke-linejoin="round">)</text>
<text transform="translate(6.30,938.13)  scale(1.0963,1)" font-family="'Noto Sans CJK KR','Liberation Sans',sans-serif" font-weight="300" font-size="27.40" fill="#262626" stroke="#262626" stroke-width="0.2" stroke-linejoin="round">12,000</text>
<text transform="translate(6.30,1051.43)  scale(1.0963,1)" font-family="'Noto Sans CJK KR','Liberation Sans',sans-serif" font-weight="300" font-size="27.40" fill="#262626" stroke="#262626" stroke-width="0.2" stroke-linejoin="round">10,000</text>
<text transform="translate(22.22,1164.63)  scale(1.0963,1)" font-family="'Noto Sans CJK KR','Liberation Sans',sans-serif" font-weight="300" font-size="27.40" fill="#262626" stroke="#262626" stroke-width="0.2" stroke-linejoin="round">8,000</text>
<text transform="translate(22.22,1277.83)  scale(1.0963,1)" font-family="'Noto Sans CJK KR','Liberation Sans',sans-serif" font-weight="300" font-size="27.40" fill="#262626" stroke="#262626" stroke-width="0.2" stroke-linejoin="round">6,000</text>
<text transform="translate(22.22,1391.03)  scale(1.0963,1)" font-family="'Noto Sans CJK KR','Liberation Sans',sans-serif" font-weight="300" font-size="27.40" fill="#262626" stroke="#262626" stroke-width="0.2" stroke-linejoin="round">4,000</text>
<text transform="translate(22.22,1504.33)  scale(1.0963,1)" font-family="'Noto Sans CJK KR','Liberation Sans',sans-serif" font-weight="300" font-size="27.40" fill="#262626" stroke="#262626" stroke-width="0.2" stroke-linejoin="round">2,000</text>
<text transform="translate(78.08,1617.53)  scale(1.0963,1)" font-family="'Noto Sans CJK KR','Liberation Sans',sans-serif" font-weight="300" font-size="27.40" fill="#262626" stroke="#262626" stroke-width="0.2" stroke-linejoin="round">0</text>
<text transform="translate(175.83,1729.50) rotate(-90) scale(0.9750,1)" font-family="'Noto Sans CJK KR','Liberation Sans',sans-serif" font-weight="300" font-size="44.44" fill="#262626" stroke="#262626" stroke-width="0.5">'21.1</text>
<text transform="translate(243.20,1662.33) rotate(-90) scale(0.9750,1)" font-family="'Noto Sans CJK KR','Liberation Sans',sans-serif" font-weight="300" font-size="44.44" fill="#262626" stroke="#262626" stroke-width="0.5">2</text>
<text transform="translate(310.14,1661.90) rotate(-90) scale(0.9750,1)" font-family="'Noto Sans CJK KR','Liberation Sans',sans-serif" font-weight="300" font-size="44.44" fill="#262626" stroke="#262626" stroke-width="0.5">3</text>
<text transform="translate(377.51,1662.77) rotate(-90) scale(0.9750,1)" font-family="'Noto Sans CJK KR','Liberation Sans',sans-serif" font-weight="300" font-size="44.44" fill="#262626" stroke="#262626" stroke-width="0.5">4</text>
<text transform="translate(444.45,1661.90) rotate(-90) scale(0.9750,1)" font-family="'Noto Sans CJK KR','Liberation Sans',sans-serif" font-weight="300" font-size="44.44" fill="#262626" stroke="#262626" stroke-width="0.5">5</text>
<text transform="translate(511.83,1662.33) rotate(-90) scale(0.9750,1)" font-family="'Noto Sans CJK KR','Liberation Sans',sans-serif" font-weight="300" font-size="44.44" fill="#262626" stroke="#262626" stroke-width="0.5">6</text>
<text transform="translate(578.76,1662.33) rotate(-90) scale(0.9750,1)" font-family="'Noto Sans CJK KR','Liberation Sans',sans-serif" font-weight="300" font-size="44.44" fill="#262626" stroke="#262626" stroke-width="0.5">7</text>
<text transform="translate(645.92,1662.33) rotate(-90) scale(0.9750,1)" font-family="'Noto Sans CJK KR','Liberation Sans',sans-serif" font-weight="300" font-size="44.44" fill="#262626" stroke="#262626" stroke-width="0.5">8</text>
<text transform="translate(713.07,1661.90) rotate(-90) scale(0.9750,1)" font-family="'Noto Sans CJK KR','Liberation Sans',sans-serif" font-weight="300" font-size="44.44" fill="#262626" stroke="#262626" stroke-width="0.5">9</text>
<text transform="translate(780.23,1685.30) rotate(-90) scale(0.9750,1)" font-family="'Noto Sans CJK KR','Liberation Sans',sans-serif" font-weight="300" font-size="44.44" fill="#262626" stroke="#262626" stroke-width="0.5">10</text>
<text transform="translate(847.60,1684.43) rotate(-90) scale(0.9750,1)" font-family="'Noto Sans CJK KR','Liberation Sans',sans-serif" font-weight="300" font-size="44.44" fill="#262626" stroke="#262626" stroke-width="0.5">11</text>
<text transform="translate(914.76,1685.30) rotate(-90) scale(0.9750,1)" font-family="'Noto Sans CJK KR','Liberation Sans',sans-serif" font-weight="300" font-size="44.44" fill="#262626" stroke="#262626" stroke-width="0.5">12</text>
<text transform="translate(981.59,1729.50) rotate(-90) scale(0.9750,1)" font-family="'Noto Sans CJK KR','Liberation Sans',sans-serif" font-weight="300" font-size="44.44" fill="#262626" stroke="#262626" stroke-width="0.5">'22.1</text>
<text transform="translate(1048.97,1662.33) rotate(-90) scale(0.9750,1)" font-family="'Noto Sans CJK KR','Liberation Sans',sans-serif" font-weight="300" font-size="44.44" fill="#262626" stroke="#262626" stroke-width="0.5">2</text>
<text transform="translate(1116.34,1661.90) rotate(-90) scale(0.9750,1)" font-family="'Noto Sans CJK KR','Liberation Sans',sans-serif" font-weight="300" font-size="44.44" fill="#262626" stroke="#262626" stroke-width="0.5">3</text>
<text transform="translate(1183.28,1662.77) rotate(-90) scale(0.9750,1)" font-family="'Noto Sans CJK KR','Liberation Sans',sans-serif" font-weight="300" font-size="44.44" fill="#262626" stroke="#262626" stroke-width="0.5">4</text>
<text transform="translate(1250.21,1661.90) rotate(-90) scale(0.9750,1)" font-family="'Noto Sans CJK KR','Liberation Sans',sans-serif" font-weight="300" font-size="44.44" fill="#262626" stroke="#262626" stroke-width="0.5">5</text>
<text transform="translate(1317.59,1662.33) rotate(-90) scale(0.9750,1)" font-family="'Noto Sans CJK KR','Liberation Sans',sans-serif" font-weight="300" font-size="44.44" fill="#262626" stroke="#262626" stroke-width="0.5">6</text>
<text transform="translate(1384.52,1662.33) rotate(-90) scale(0.9750,1)" font-family="'Noto Sans CJK KR','Liberation Sans',sans-serif" font-weight="300" font-size="44.44" fill="#262626" stroke="#262626" stroke-width="0.5">7</text>
<text transform="translate(1451.90,1662.33) rotate(-90) scale(0.9750,1)" font-family="'Noto Sans CJK KR','Liberation Sans',sans-serif" font-weight="300" font-size="44.44" fill="#262626" stroke="#262626" stroke-width="0.5">8</text>
<text transform="translate(1519.28,1661.90) rotate(-90) scale(0.9750,1)" font-family="'Noto Sans CJK KR','Liberation Sans',sans-serif" font-weight="300" font-size="44.44" fill="#262626" stroke="#262626" stroke-width="0.5">9</text>
<text transform="translate(1586.21,1685.30) rotate(-90) scale(0.9750,1)" font-family="'Noto Sans CJK KR','Liberation Sans',sans-serif" font-weight="300" font-size="44.44" fill="#262626" stroke="#262626" stroke-width="0.5">10</text>
<text transform="translate(1653.14,1684.43) rotate(-90) scale(0.9750,1)" font-family="'Noto Sans CJK KR','Liberation Sans',sans-serif" font-weight="300" font-size="44.44" fill="#262626" stroke="#262626" stroke-width="0.5">11</text>
<text transform="translate(1720.52,1685.30) rotate(-90) scale(0.9750,1)" font-family="'Noto Sans CJK KR','Liberation Sans',sans-serif" font-weight="300" font-size="44.44" fill="#262626" stroke="#262626" stroke-width="0.5">12</text>
<text transform="translate(1787.35,1729.50) rotate(-90) scale(0.9750,1)" font-family="'Noto Sans CJK KR','Liberation Sans',sans-serif" font-weight="300" font-size="44.44" fill="#262626" stroke="#262626" stroke-width="0.5">'23.1</text>
<text transform="translate(1854.73,1662.33) rotate(-90) scale(0.9750,1)" font-family="'Noto Sans CJK KR','Liberation Sans',sans-serif" font-weight="300" font-size="44.44" fill="#262626" stroke="#262626" stroke-width="0.5">2</text>
<text transform="translate(1921.66,1661.90) rotate(-90) scale(0.9750,1)" font-family="'Noto Sans CJK KR','Liberation Sans',sans-serif" font-weight="300" font-size="44.44" fill="#262626" stroke="#262626" stroke-width="0.5">3</text>
<text transform="translate(1989.04,1662.77) rotate(-90) scale(0.9750,1)" font-family="'Noto Sans CJK KR','Liberation Sans',sans-serif" font-weight="300" font-size="44.44" fill="#262626" stroke="#262626" stroke-width="0.5">4</text>
<text transform="translate(2056.42,1661.90) rotate(-90) scale(0.9750,1)" font-family="'Noto Sans CJK KR','Liberation Sans',sans-serif" font-weight="300" font-size="44.44" fill="#262626" stroke="#262626" stroke-width="0.5">5</text>
<text transform="translate(2123.35,1662.33) rotate(-90) scale(0.9750,1)" font-family="'Noto Sans CJK KR','Liberation Sans',sans-serif" font-weight="300" font-size="44.44" fill="#262626" stroke="#262626" stroke-width="0.5">6</text>
<text transform="translate(2190.51,1662.33) rotate(-90) scale(0.9750,1)" font-family="'Noto Sans CJK KR','Liberation Sans',sans-serif" font-weight="300" font-size="44.44" fill="#262626" stroke="#262626" stroke-width="0.5">7</text>
<text transform="translate(2257.66,1662.33) rotate(-90) scale(0.9750,1)" font-family="'Noto Sans CJK KR','Liberation Sans',sans-serif" font-weight="300" font-size="44.44" fill="#262626" stroke="#262626" stroke-width="0.5">8</text>
<text transform="translate(2324.60,1661.90) rotate(-90) scale(0.9750,1)" font-family="'Noto Sans CJK KR','Liberation Sans',sans-serif" font-weight="300" font-size="44.44" fill="#262626" stroke="#262626" stroke-width="0.5">9</text>
<text transform="translate(2391.97,1685.30) rotate(-90) scale(0.9750,1)" font-family="'Noto Sans CJK KR','Liberation Sans',sans-serif" font-weight="300" font-size="44.44" fill="#262626" stroke="#262626" stroke-width="0.5">10</text>
<text transform="translate(2459.13,1684.43) rotate(-90) scale(0.9750,1)" font-family="'Noto Sans CJK KR','Liberation Sans',sans-serif" font-weight="300" font-size="44.44" fill="#262626" stroke="#262626" stroke-width="0.5">11</text>
<text transform="translate(2526.28,1685.30) rotate(-90) scale(0.9750,1)" font-family="'Noto Sans CJK KR','Liberation Sans',sans-serif" font-weight="300" font-size="44.44" fill="#262626" stroke="#262626" stroke-width="0.5">12</text>
<text transform="translate(2593.11,1729.50) rotate(-90) scale(0.9750,1)" font-family="'Noto Sans CJK KR','Liberation Sans',sans-serif" font-weight="300" font-size="44.44" fill="#262626" stroke="#262626" stroke-width="0.5">'24.1</text>
<text transform="translate(2660.27,1662.33) rotate(-90) scale(0.9750,1)" font-family="'Noto Sans CJK KR','Liberation Sans',sans-serif" font-weight="300" font-size="44.44" fill="#262626" stroke="#262626" stroke-width="0.5">2</text>
<text transform="translate(2727.42,1661.90) rotate(-90) scale(0.9750,1)" font-family="'Noto Sans CJK KR','Liberation Sans',sans-serif" font-weight="300" font-size="44.44" fill="#262626" stroke="#262626" stroke-width="0.5">3</text>
<text transform="translate(2794.80,1662.77) rotate(-90) scale(0.9750,1)" font-family="'Noto Sans CJK KR','Liberation Sans',sans-serif" font-weight="300" font-size="44.44" fill="#262626" stroke="#262626" stroke-width="0.5">4</text>
<text transform="translate(2861.74,1661.90) rotate(-90) scale(0.9750,1)" font-family="'Noto Sans CJK KR','Liberation Sans',sans-serif" font-weight="300" font-size="44.44" fill="#262626" stroke="#262626" stroke-width="0.5">5</text>
<text transform="translate(2928.89,1662.33) rotate(-90) scale(0.9750,1)" font-family="'Noto Sans CJK KR','Liberation Sans',sans-serif" font-weight="300" font-size="44.44" fill="#262626" stroke="#262626" stroke-width="0.5">6</text>
<text transform="translate(2996.05,1662.33) rotate(-90) scale(0.9750,1)" font-family="'Noto Sans CJK KR','Liberation Sans',sans-serif" font-weight="300" font-size="44.44" fill="#262626" stroke="#262626" stroke-width="0.5">7</text>
<text transform="translate(3063.20,1662.33) rotate(-90) scale(0.9750,1)" font-family="'Noto Sans CJK KR','Liberation Sans',sans-serif" font-weight="300" font-size="44.44" fill="#262626" stroke="#262626" stroke-width="0.5">8</text>
<text transform="translate(3130.36,1661.90) rotate(-90) scale(0.9750,1)" font-family="'Noto Sans CJK KR','Liberation Sans',sans-serif" font-weight="300" font-size="44.44" fill="#262626" stroke="#262626" stroke-width="0.5">9</text>
<text transform="translate(3197.74,1685.30) rotate(-90) scale(0.9750,1)" font-family="'Noto Sans CJK KR','Liberation Sans',sans-serif" font-weight="300" font-size="44.44" fill="#262626" stroke="#262626" stroke-width="0.5">10</text>
<text transform="translate(1001.89,990.30)  scale(0.9827,1)" font-family="'Liberation Sans','Noto Sans CJK KR',sans-serif" font-weight="400" font-size="43.00" fill="#222222" stroke="#222222" stroke-width="1.3" stroke-linejoin="round">'22.1</text>
<text transform="translate(951.06,1030.50)  scale(1.0305,1)" font-family="'Noto Sans CJK KR','Liberation Sans',sans-serif" font-weight="500" font-size="33.80" fill="#222222" stroke="#222222" stroke-width="0.8" stroke-linejoin="round">대출규제강화</text>
<text transform="translate(983.71,1070.41)  scale(1.0105,1)" font-family="'Noto Sans CJK KR','Liberation Sans',sans-serif" font-weight="500" font-size="34.35" fill="#222222" stroke="#222222" stroke-width="0.8" stroke-linejoin="round">금리인상</text>
<text transform="translate(1794.87,1011.18)  scale(1.0172,1)" font-family="'Liberation Sans','Noto Sans CJK KR',sans-serif" font-weight="400" font-size="41.83" fill="#222222" stroke="#222222" stroke-width="1.3" stroke-linejoin="round">'23.1</text>
<text transform="translate(1737.58,1052.31)  scale(0.9875,1)" font-family="'Noto Sans CJK KR','Liberation Sans',sans-serif" font-weight="500" font-size="34.84" fill="#222222" stroke="#222222" stroke-width="0.8" stroke-linejoin="round">전국</text>
<text transform="translate(1809.39,1052.31)  scale(1.0096,1)" font-family="'Noto Sans CJK KR','Liberation Sans',sans-serif" font-weight="500" font-size="34.84" fill="#222222" stroke="#222222" stroke-width="0.8" stroke-linejoin="round">조정지역</text>
<text transform="translate(1776.61,1092.02)  scale(1.0035,1)" font-family="'Noto Sans CJK KR','Liberation Sans',sans-serif" font-weight="500" font-size="34.73" fill="#222222" stroke="#222222" stroke-width="0.8" stroke-linejoin="round">규제완화</text>
<text transform="translate(3156.89,1017.40)  scale(1.0172,1)" font-family="'Liberation Sans','Noto Sans CJK KR',sans-serif" font-weight="400" font-size="43.43" fill="#222222" stroke="#222222" stroke-width="1.3" stroke-linejoin="round">'24.10</text>
<text transform="translate(3120.36,1057.28)  scale(1.0250,1)" font-family="'Noto Sans CJK KR','Liberation Sans',sans-serif" font-weight="500" font-size="34.02" fill="#222222" stroke="#222222" stroke-width="0.8" stroke-linejoin="round">대출규제강화</text>
<text transform="translate(966.18,1147.55)  scale(0.9894,1)" font-family="'Noto Sans CJK KR','Liberation Sans',sans-serif" font-weight="900" font-size="36.53" fill="#ffffff">거래량</text>
<text transform="translate(1072.56,1147.55)  scale(1.0110,1)" font-family="'Noto Sans CJK KR','Liberation Sans',sans-serif" font-weight="900" font-size="36.53" fill="#ffffff">감소</text>
<text transform="translate(1756.20,1155.78)  scale(0.9171,1)" font-family="'Noto Sans CJK KR','Liberation Sans',sans-serif" font-weight="900" font-size="38.21" fill="#ffffff">외부수요</text>
<text transform="translate(1896.35,1155.78)  scale(0.9829,1)" font-family="'Noto Sans CJK KR','Liberation Sans',sans-serif" font-weight="900" font-size="38.21" fill="#ffffff">이탈</text>
<text transform="translate(1331.76,1854.22)  scale(0.9975,1)" font-family="'Noto Sans CJK KR','Liberation Sans',sans-serif" font-weight="400" font-size="46.40" fill="#1a1a1a" stroke="#1a1a1a" stroke-width="0.4" stroke-linejoin="round">인천</text>
<text transform="translate(1494.10,1854.22)  scale(0.9710,1)" font-family="'Noto Sans CJK KR','Liberation Sans',sans-serif" font-weight="400" font-size="46.40" fill="#1a1a1a" stroke="#1a1a1a" stroke-width="0.4" stroke-linejoin="round">경기도</text>
<text transform="translate(1695.11,1854.22)  scale(0.9873,1)" font-family="'Noto Sans CJK KR','Liberation Sans',sans-serif" font-weight="400" font-size="46.40" fill="#1a1a1a" stroke="#1a1a1a" stroke-width="0.4" stroke-linejoin="round">서울시</text>
<text transform="translate(1895.84,1854.22)  scale(1.0044,1)" font-family="'Noto Sans CJK KR','Liberation Sans',sans-serif" font-weight="400" font-size="46.40" fill="#1a1a1a" stroke="#1a1a1a" stroke-width="0.4" stroke-linejoin="round">광역</text>
<text transform="translate(33.72,1886.26)  scale(1.0008,1)" font-family="'Noto Sans CJK KR','Liberation Sans',sans-serif" font-weight="700" font-size="34.84" fill="#222222">※ 출처 : 한국 부동산원</text>
<text transform="translate(3289.26,1968.03)  scale(1.1460,1)" font-family="'Noto Sans CJK KR','Liberation Sans',sans-serif" font-weight="350" font-size="56.62" fill="#595959">6</text></svg></body></html>
